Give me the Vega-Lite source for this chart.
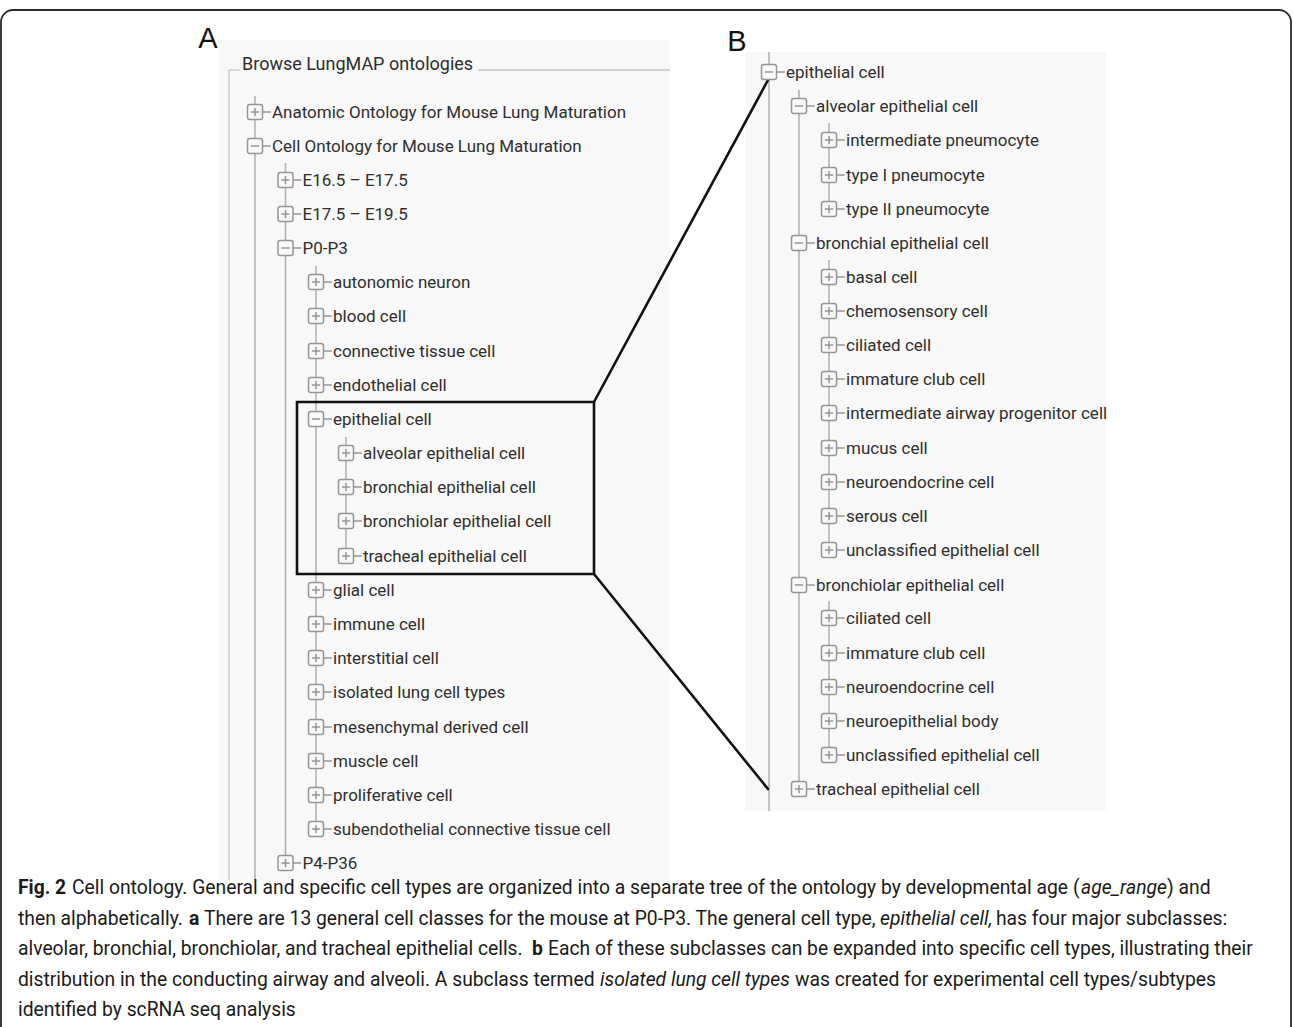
{
  "$schema": "https://vega.github.io/schema/vega-lite/v6.json",
  "autosize": {"type": "fit", "contains": "padding"},
  "width": 1293,
  "height": 1027,
  "padding": 0,
  "background": "white",
  "config": {"view": {"stroke": null}},
  "datasets": {
    "frame": [{"x": 1, "y": 10, "x2": 1291, "y2": 1060}],
    "panels": [
      {"x": 218, "y": 40, "x2": 670, "y2": 880},
      {"x": 745, "y": 52, "x2": 1106, "y2": 811}
    ],
    "fieldset": [
      {"x": 229, "y": 70, "x2": 240, "y2": 70},
      {"x": 478, "y": 70, "x2": 670, "y2": 70},
      {"x": 229, "y": 70, "x2": 229, "y2": 880}
    ],
    "treelines": [
      {"x": 255, "y": 96, "x2": 255, "y2": 880},
      {"x": 285.5, "y": 163, "x2": 285.5, "y2": 864},
      {"x": 316, "y": 266, "x2": 316, "y2": 830},
      {"x": 346, "y": 437, "x2": 346, "y2": 557},
      {"x": 769, "y": 52, "x2": 769, "y2": 811},
      {"x": 799, "y": 90, "x2": 799, "y2": 790},
      {"x": 829, "y": 123, "x2": 829, "y2": 210},
      {"x": 829, "y": 260, "x2": 829, "y2": 551},
      {"x": 829, "y": 601, "x2": 829, "y2": 756}
    ],
    "zoombox": [{"x": 297, "y": 402, "x2": 594, "y2": 574}],
    "zoomlines": [
      {"x": 594, "y": 402, "x2": 768, "y2": 80},
      {"x": 594, "y": 574, "x2": 768, "y2": 789}
    ],
    "nodes": [
      {"x": 255, "y": 112, "s": "plus", "label": "Anatomic Ontology for Mouse Lung Maturation"},
      {"x": 255, "y": 146, "s": "minus", "label": "Cell Ontology for Mouse Lung Maturation"},
      {"x": 285.5, "y": 180, "s": "plus", "label": "E16.5 – E17.5"},
      {"x": 285.5, "y": 214, "s": "plus", "label": "E17.5 – E19.5"},
      {"x": 285.5, "y": 248, "s": "minus", "label": "P0-P3"},
      {"x": 316, "y": 282, "s": "plus", "label": "autonomic neuron"},
      {"x": 316, "y": 316, "s": "plus", "label": "blood cell"},
      {"x": 316, "y": 351, "s": "plus", "label": "connective tissue cell"},
      {"x": 316, "y": 385, "s": "plus", "label": "endothelial cell"},
      {"x": 316, "y": 419, "s": "minus", "label": "epithelial cell"},
      {"x": 346, "y": 453, "s": "plus", "label": "alveolar epithelial cell"},
      {"x": 346, "y": 487, "s": "plus", "label": "bronchial epithelial cell"},
      {"x": 346, "y": 521, "s": "plus", "label": "bronchiolar epithelial cell"},
      {"x": 346, "y": 556, "s": "plus", "label": "tracheal epithelial cell"},
      {"x": 316, "y": 590, "s": "plus", "label": "glial cell"},
      {"x": 316, "y": 624, "s": "plus", "label": "immune cell"},
      {"x": 316, "y": 658, "s": "plus", "label": "interstitial cell"},
      {"x": 316, "y": 692, "s": "plus", "label": "isolated lung cell types"},
      {"x": 316, "y": 727, "s": "plus", "label": "mesenchymal derived cell"},
      {"x": 316, "y": 761, "s": "plus", "label": "muscle cell"},
      {"x": 316, "y": 795, "s": "plus", "label": "proliferative cell"},
      {"x": 316, "y": 829, "s": "plus", "label": "subendothelial connective tissue cell"},
      {"x": 285.5, "y": 863, "s": "plus", "label": "P4-P36"},
      {"x": 769, "y": 72, "s": "minus", "label": "epithelial cell"},
      {"x": 799, "y": 106, "s": "minus", "label": "alveolar epithelial cell"},
      {"x": 829, "y": 140, "s": "plus", "label": "intermediate pneumocyte"},
      {"x": 829, "y": 175, "s": "plus", "label": "type I pneumocyte"},
      {"x": 829, "y": 209, "s": "plus", "label": "type II pneumocyte"},
      {"x": 799, "y": 243, "s": "minus", "label": "bronchial epithelial cell"},
      {"x": 829, "y": 277, "s": "plus", "label": "basal cell"},
      {"x": 829, "y": 311, "s": "plus", "label": "chemosensory cell"},
      {"x": 829, "y": 345, "s": "plus", "label": "ciliated cell"},
      {"x": 829, "y": 379, "s": "plus", "label": "immature club cell"},
      {"x": 829, "y": 413, "s": "plus", "label": "intermediate airway progenitor cell"},
      {"x": 829, "y": 448, "s": "plus", "label": "mucus cell"},
      {"x": 829, "y": 482, "s": "plus", "label": "neuroendocrine cell"},
      {"x": 829, "y": 516, "s": "plus", "label": "serous cell"},
      {"x": 829, "y": 550, "s": "plus", "label": "unclassified epithelial cell"},
      {"x": 799, "y": 585, "s": "minus", "label": "bronchiolar epithelial cell"},
      {"x": 829, "y": 618, "s": "plus", "label": "ciliated cell"},
      {"x": 829, "y": 653, "s": "plus", "label": "immature club cell"},
      {"x": 829, "y": 687, "s": "plus", "label": "neuroendocrine cell"},
      {"x": 829, "y": 721, "s": "plus", "label": "neuroepithelial body"},
      {"x": 829, "y": 755, "s": "plus", "label": "unclassified epithelial cell"},
      {"x": 799, "y": 789, "s": "plus", "label": "tracheal epithelial cell"}
    ],
    "letters": [
      {"x": 208, "y": 48, "text": "A"},
      {"x": 737, "y": 51, "text": "B"}
    ],
    "legendtext": [{"x": 242, "y": 65, "text": "Browse LungMAP ontologies"}],
    "caption": [
      {"x": 18, "y": 888, "style": "bold", "text": "Fig. 2"},
      {"x": 72, "y": 888, "style": "normal", "text": "Cell ontology. General and specific cell types are organized into a separate tree of the ontology by developmental age ("},
      {"x": 1081, "y": 888, "style": "italic", "text": "age_range"},
      {"x": 1167, "y": 888, "style": "normal", "text": ") and"},
      {"x": 18, "y": 919, "style": "normal", "text": "then alphabetically."},
      {"x": 189, "y": 919, "style": "bold", "text": "a"},
      {"x": 204, "y": 919, "style": "normal", "text": "There are 13 general cell classes for the mouse at P0-P3. The general cell type,"},
      {"x": 880, "y": 919, "style": "italic", "text": "epithelial cell,"},
      {"x": 996, "y": 919, "style": "normal", "text": "has four major subclasses:"},
      {"x": 18, "y": 949, "style": "normal", "text": "alveolar, bronchial, bronchiolar, and tracheal epithelial cells."},
      {"x": 532, "y": 949, "style": "bold", "text": "b"},
      {"x": 548, "y": 949, "style": "normal", "text": "Each of these subclasses can be expanded into specific cell types, illustrating their"},
      {"x": 18, "y": 980, "style": "normal", "text": "distribution in the conducting airway and alveoli. A subclass termed"},
      {"x": 600, "y": 980, "style": "italic", "text": "isolated lung cell types"},
      {"x": 795, "y": 980, "style": "normal", "text": "was created for experimental cell types/subtypes"},
      {"x": 18, "y": 1010, "style": "normal", "text": "identified by scRNA seq analysis"}
    ]
  },
  "encoding": {
    "x": {"field": "x", "type": "quantitative", "scale": {"domain": [0, 1293], "nice": false, "zero": false}, "axis": null},
    "y": {"field": "y", "type": "quantitative", "scale": {"domain": [0, 1027], "nice": false, "zero": false, "reverse": true}, "axis": null}
  },
  "layer": [
    {
      "data": {"name": "frame"},
      "mark": {"type": "rect", "fill": "white", "stroke": "#2a2a2a", "strokeWidth": 1.8, "cornerRadius": 12, "clip": true},
      "encoding": {"x2": {"field": "x2"}, "y2": {"field": "y2"}}
    },
    {
      "data": {"name": "panels"},
      "mark": {"type": "rect", "fill": "#f8f8f8", "stroke": null},
      "encoding": {"x2": {"field": "x2"}, "y2": {"field": "y2"}}
    },
    {
      "data": {"name": "fieldset"},
      "mark": {"type": "rule", "stroke": "#c4c4c4", "strokeWidth": 1.3},
      "encoding": {"x2": {"field": "x2"}, "y2": {"field": "y2"}}
    },
    {
      "data": {"name": "treelines"},
      "mark": {"type": "rule", "stroke": "#b3b3b3", "strokeWidth": 1.6},
      "encoding": {"x2": {"field": "x2"}, "y2": {"field": "y2"}}
    },
    {
      "data": {"name": "zoombox"},
      "mark": {"type": "rect", "fillOpacity": 0, "fill": "white", "stroke": "#111111", "strokeWidth": 2.6},
      "encoding": {"x2": {"field": "x2"}, "y2": {"field": "y2"}}
    },
    {
      "data": {"name": "zoomlines"},
      "mark": {"type": "rule", "stroke": "#111111", "strokeWidth": 2.6, "strokeCap": "round"},
      "encoding": {"x2": {"field": "x2"}, "y2": {"field": "y2"}}
    },
    {
      "data": {"name": "nodes"},
      "mark": {"type": "point", "filled": true, "fill": "#f9f9f9", "stroke": "#959595", "strokeWidth": 1.5, "opacity": 1, "size": 225},
      "encoding": {
        "shape": {
          "field": "s", "type": "nominal", "legend": null,
          "scale": {
            "domain": ["plus", "minus"],
            "range": [
              "M -0.7 -1 L 0.7 -1 Q 1 -1 1 -0.7 L 1 0.7 Q 1 1 0.7 1 L -0.7 1 Q -1 1 -1 0.7 L -1 -0.7 Q -1 -1 -0.7 -1 Z M -0.55 0 L 0.55 0 M 0 -0.55 L 0 0.55 M 1 0 L 2.1 0",
              "M -0.7 -1 L 0.7 -1 Q 1 -1 1 -0.7 L 1 0.7 Q 1 1 0.7 1 L -0.7 1 Q -1 1 -1 0.7 L -1 -0.7 Q -1 -1 -0.7 -1 Z M -0.55 0 L 0.55 0 M 1 0 L 2.1 0"
            ]
          }
        }
      }
    },
    {
      "data": {"name": "nodes"},
      "mark": {"type": "text", "align": "left", "baseline": "middle", "dx": 17, "dy": 1, "font": "Roboto", "fontSize": 17, "color": "#2e2e2e"},
      "encoding": {"text": {"field": "label"}}
    },
    {
      "data": {"name": "legendtext"},
      "mark": {"type": "text", "align": "left", "baseline": "middle", "font": "Roboto", "fontSize": 18, "color": "#2e2e2e"},
      "encoding": {"text": {"field": "text"}}
    },
    {
      "data": {"name": "letters"},
      "mark": {"type": "text", "align": "center", "baseline": "alphabetic", "font": "Liberation Sans", "fontSize": 29, "color": "#111111"},
      "encoding": {"text": {"field": "text"}}
    },
    {
      "data": {"name": "caption"},
      "transform": [{"filter": "datum.style === 'normal'"}],
      "mark": {"type": "text", "align": "left", "baseline": "middle", "font": "Roboto", "fontSize": 19.3, "color": "#1a1a1a"},
      "encoding": {"text": {"field": "text"}}
    },
    {
      "data": {"name": "caption"},
      "transform": [{"filter": "datum.style === 'bold'"}],
      "mark": {"type": "text", "align": "left", "baseline": "middle", "font": "Roboto", "fontSize": 19.3, "fontWeight": "bold", "color": "#1a1a1a"},
      "encoding": {"text": {"field": "text"}}
    },
    {
      "data": {"name": "caption"},
      "transform": [{"filter": "datum.style === 'italic'"}],
      "mark": {"type": "text", "align": "left", "baseline": "middle", "font": "Roboto", "fontSize": 19.3, "fontStyle": "italic", "color": "#1a1a1a"},
      "encoding": {"text": {"field": "text"}}
    }
  ]
}
